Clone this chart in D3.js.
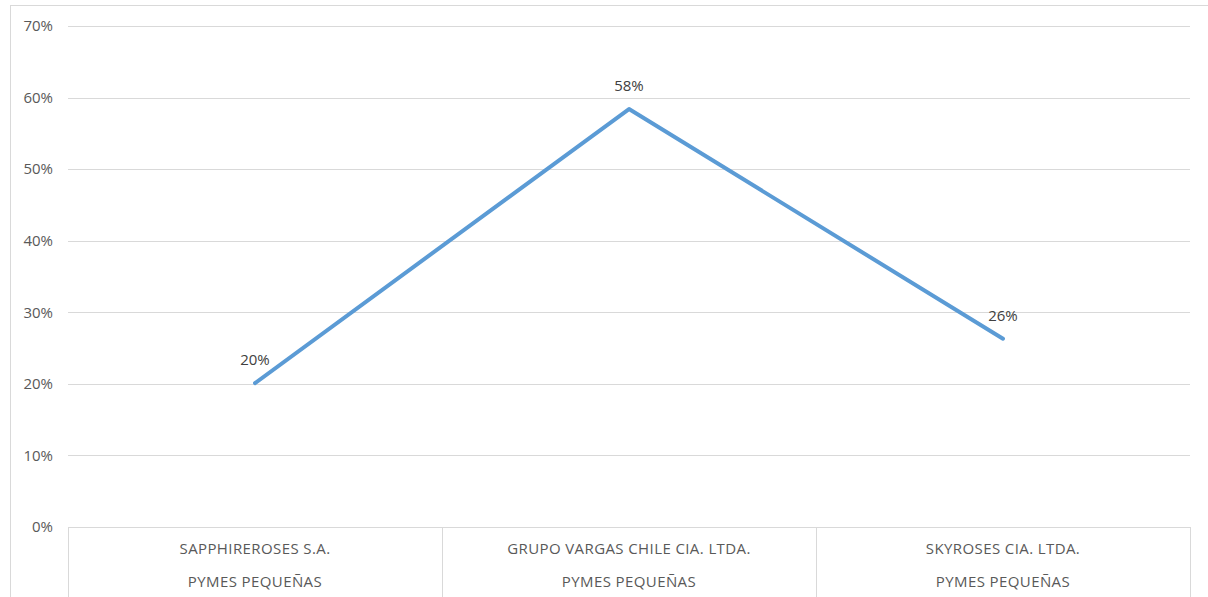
<!DOCTYPE html>
<html><head><meta charset="utf-8">
<script src="https://cdn.jsdelivr.net/npm/d3@7"></script>
<style>body{margin:0;background:#fff;}svg{display:block;font-family:"Open Sans","Noto Sans","Liberation Sans",sans-serif;}</style>
</head><body><svg id="c" width="1208" height="597"></svg>
<script>
const categories = ["SAPPHIREROSES S.A.", "GRUPO VARGAS CHILE CIA. LTDA.", "SKYROSES CIA. LTDA."];
const groupLabels = ["PYMES PEQUEÑAS", "PYMES PEQUEÑAS", "PYMES PEQUEÑAS"];
const values = [0.201, 0.584, 0.263];
const dataLabels = ["20%", "58%", "26%"];
const yTicks = [0, 0.1, 0.2, 0.3, 0.4, 0.5, 0.6, 0.7];

const svg = d3.select("#c");
const L = 68, R = 1190, T = 26, B = 527;
const x = d3.scaleBand().domain(categories).range([L, R]);
const y = d3.scaleLinear().domain([0, 0.7]).range([B, T]);
const textColor = "#595959";
const fs = 15;
const ls = "0.4px";

// outer frame
svg.append("rect").attr("x", 10.5).attr("y", 5.5).attr("width", 1210).attr("height", 600)
  .attr("fill", "none").attr("stroke", "#d9d9d9");

// gridlines
svg.append("g").selectAll("line").data(yTicks).join("line")
  .attr("x1", L).attr("x2", R)
  .attr("y1", d => Math.round(y(d)) + 0.5).attr("y2", d => Math.round(y(d)) + 0.5)
  .attr("stroke", "#d9d9d9").attr("stroke-width", 1);

// y tick labels
svg.append("g").selectAll("text").data(yTicks).join("text")
  .attr("x", 53).attr("y", d => y(d)).attr("dy", "0.35em")
  .attr("text-anchor", "end").attr("font-size", fs).attr("fill", textColor)
  .text(d => d3.format(".0%")(d));

// category separators
const seps = [L, ...categories.map(c => x(c) + x.bandwidth())];
svg.append("g").selectAll("line").data(seps).join("line")
  .attr("x1", d => Math.round(d) + 0.5).attr("x2", d => Math.round(d) + 0.5)
  .attr("y1", B).attr("y2", 597)
  .attr("stroke", "#d9d9d9");

// category labels
svg.append("g").selectAll("text").data(categories).join("text")
  .attr("x", d => x(d) + x.bandwidth() / 2).attr("y", 548.5).attr("dy", "0.35em")
  .attr("text-anchor", "middle").attr("font-size", fs).attr("letter-spacing", ls).attr("fill", textColor)
  .text(d => d);
svg.append("g").selectAll("text").data(groupLabels).join("text")
  .attr("x", (d, i) => x(categories[i]) + x.bandwidth() / 2).attr("y", 581.5).attr("dy", "0.35em")
  .attr("text-anchor", "middle").attr("font-size", fs).attr("letter-spacing", ls).attr("fill", textColor)
  .text(d => d);

// line
const line = d3.line().x((d, i) => x(categories[i]) + x.bandwidth() / 2).y(d => y(d));
svg.append("path").datum(values).attr("d", line)
  .attr("fill", "none").attr("stroke", "#5b9bd5").attr("stroke-width", 4)
  .attr("stroke-linejoin", "round").attr("stroke-linecap", "round");

// data labels
svg.append("g").selectAll("text").data(values).join("text")
  .attr("x", (d, i) => x(categories[i]) + x.bandwidth() / 2)
  .attr("y", d => y(d) - 23).attr("dy", "0.35em")
  .attr("text-anchor", "middle").attr("font-size", fs).attr("fill", "#404040")
  .text((d, i) => dataLabels[i]);
</script></body></html>
